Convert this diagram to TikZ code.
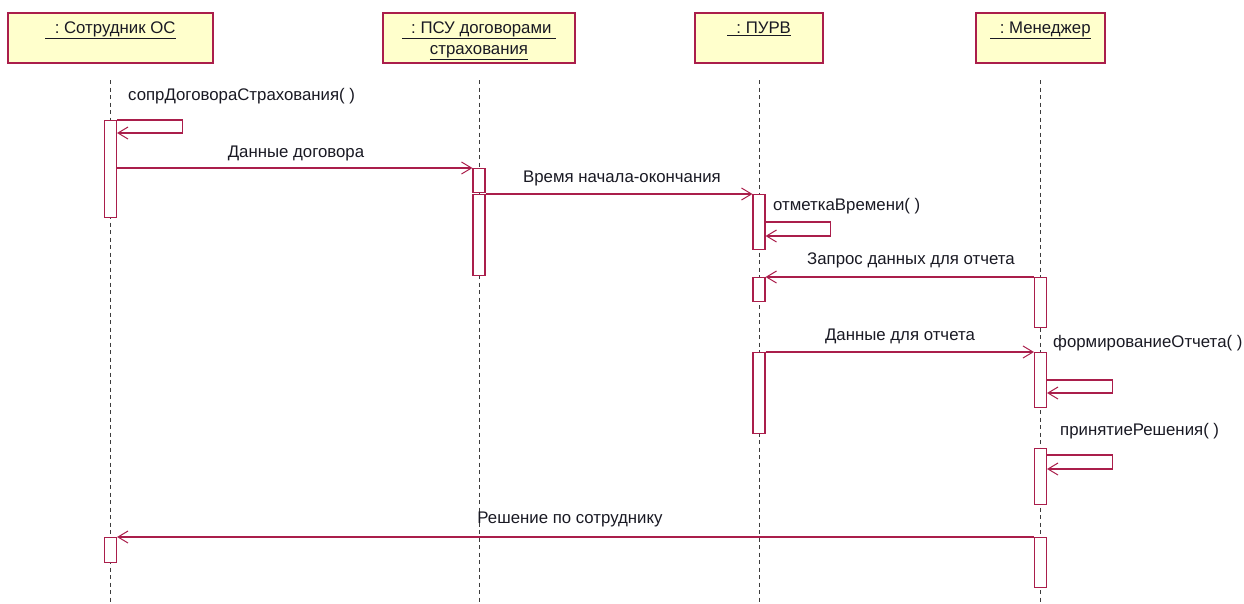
\documentclass[tikz,border=0pt]{standalone}
\usepackage{fontspec}
\setmainfont{Liberation Sans}
\usetikzlibrary{arrows.meta,calc}
\definecolor{umlred}{RGB}{170,30,75}
\definecolor{umlfill}{RGB}{255,255,204}
\definecolor{umltext}{RGB}{25,25,35}
\definecolor{lifegray}{RGB}{60,60,60}

\begin{document}
\begin{tikzpicture}[x=1pt,y=-1pt,
  font=\fontsize{16.8}{20}\selectfont,
  objbox/.style={draw=umlred, fill=umlfill, line width=1.2pt, rectangle,
    inner sep=0pt, minimum height=50pt},
  objname/.style={text=umltext, anchor=base, inner sep=0pt},
  lifeline/.style={draw=lifegray, line width=1pt, dash pattern=on 4pt off 3.5pt},
  act/.style={draw=umlred, fill=white, line width=1.1pt, rectangle,
    inner sep=0pt, minimum width=12pt, anchor=north},
  msg/.style={draw=umlred, line width=1.1pt,
    -{Straight Barb[length=10pt,width=12pt,line width=1pt]}},
  lbl/.style={text=umltext, inner sep=0pt, anchor=base},
  selflbl/.style={text=umltext, inner sep=0pt, anchor=base west}
]
\useasboundingbox (0,0) rectangle (1244,603);

% object boxes
\node[objbox, minimum width=205pt] (b1) at (110.5,38) {};
\node[objbox, minimum width=192pt] (b2) at (479,38) {};
\node[objbox, minimum width=128pt] (b3) at (759,38) {};
\node[objbox, minimum width=129pt] (b4) at (1040.5,38) {};

\node[objname] (n1) at ($(b1.north)+(0,21)$) {\underline{\ \ :\ Сотрудник ОС}};
\node[objname] (n2a) at ($(b2.north)+(0,21)$) {\underline{\ \ :\ ПСУ договорами\ }};
\node[objname] (n2b) at ($(b2.north)+(0,42)$) {\underline{страхования}};
\node[objname] (n3) at ($(b3.north)+(0,21)$) {\underline{\ \ :\ ПУРВ}};
\node[objname] (n4) at ($(b4.north)+(0,21)$) {\underline{\ \ :\ Менеджер}};

% lifelines
\draw[lifeline] (b1.south |- 0,80) -- (b1.south |- 0,603);
\draw[lifeline] (b2.south |- 0,80) -- (b2.south |- 0,603);
\draw[lifeline] (b3.south |- 0,80) -- (b3.south |- 0,603);
\draw[lifeline] (b4.south |- 0,80) -- (b4.south |- 0,603);

% activation bars
\node[act, minimum height=97pt] (a1) at (b1.south |- 0,120) {};
\node[act, minimum height=25pt] (a2) at (b1.south |- 0,537) {};
\node[act, minimum height=24pt] (a3) at (b2.south |- 0,168) {};
\node[act, minimum height=81pt] (a4) at (b2.south |- 0,194) {};
\node[act, minimum height=55pt] (a5) at (b3.south |- 0,194) {};
\node[act, minimum height=24pt] (a6) at (b3.south |- 0,277) {};
\node[act, minimum height=81pt] (a7) at (b3.south |- 0,352) {};
\node[act, minimum height=50pt] (a9) at (b4.south |- 0,277) {};
\node[act, minimum height=55pt] (a10) at (b4.south |- 0,352) {};
\node[act, minimum height=56pt] (a11) at (b4.south |- 0,448) {};
\node[act, minimum height=50pt] (a12) at (b4.south |- 0,537) {};

% messages
\draw[msg] (a1.north east) -- ++(65,0) -- ++(0,13) -- ++(-65,0);
\node[selflbl] (m1) at (128,100) {сопрДоговораСтрахования( )};

\draw[msg] (a1.east |- a3.north) -- (a3.north west);
\node[lbl] (m2) at (296,157) {Данные договора};

\draw[msg] (a4.north east) -- (a5.north west);
\node[lbl] (m3) at (622,182) {Время начала-окончания};

\draw[msg] ($(a5.north east)+(0,28)$) -- ++(65,0) -- ++(0,14) -- ++(-65,0);
\node[selflbl] (m4) at (773,210) {отметкаВремени( )};

\draw[msg] (a9.north west) -- (a6.north east);
\node[lbl] (m5) at (911,264) {Запрос данных для отчета};

\draw[msg] (a7.north east) -- (a10.north west);
\node[lbl] (m6) at (900,340) {Данные для отчета};

\draw[msg] ($(a10.north east)+(0,28)$) -- ++(65,0) -- ++(0,13) -- ++(-65,0);
\node[selflbl] (m7) at (1053,347) {формированиеОтчета( )};

\draw[msg] ($(a11.north east)+(0,7)$) -- ++(65,0) -- ++(0,14) -- ++(-65,0);
\node[selflbl] (m8) at (1060,435) {принятиеРешения( )};

\draw[msg] (a12.north west) -- (a2.north east);
\node[lbl] (m9) at (570,523) {Решение по сотруднику};
\end{tikzpicture}
\end{document}
